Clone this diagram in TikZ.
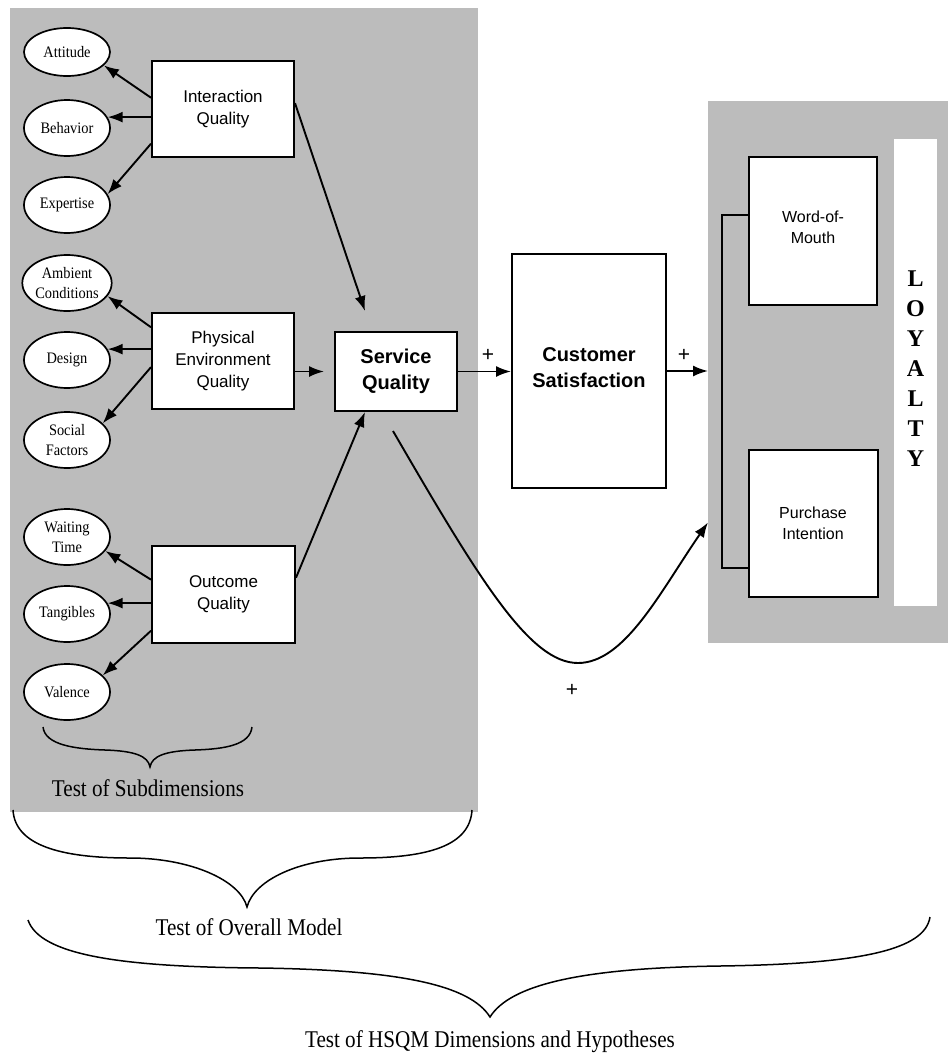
\documentclass[tikz,border=0pt]{standalone}
\usepackage{fontspec}
\setmainfont{Liberation Serif}
\newfontfamily\boxfont{Liberation Sans}
\newfontfamily\ovalfont[FakeStretch=0.9]{Liberation Serif}
\newfontfamily\capfont[FakeStretch=0.88]{Liberation Serif}
\usetikzlibrary{arrows.meta,calc,shapes.geometric}

\definecolor{panel}{RGB}{188,188,188}

\begin{document}
\begin{tikzpicture}[x=1pt,y=-1pt,
  panelbox/.style={fill=panel,draw=none,rectangle,inner sep=0pt},
  factor/.style={draw,fill=white,rectangle,line width=2pt,inner sep=0pt,
    font=\boxfont\fontsize{17}{22}\selectfont,align=center},
  keybox/.style={factor,font=\boxfont\bfseries\fontsize{20}{26}\selectfont},
  oval/.style={draw,fill=white,ellipse,line width=1.7pt,minimum width=86pt,
    minimum height=56pt,inner sep=0pt,font=\ovalfont\fontsize{16}{20}\selectfont,align=center},
  link/.style={line width=1.9pt,-{Latex[length=15pt,width=11pt]}},
  plain/.style={line width=2pt},
  brace/.style={line width=1.5pt},
  caption/.style={font=\capfont\fontsize{24}{28}\selectfont},
  plus/.style={font=\boxfont\fontsize{21}{24}\selectfont}
]
\useasboundingbox (0,0) rectangle (951,1055);

% grey groupings
\node[panelbox,minimum width=468pt,minimum height=804pt,anchor=north west] (left) at (10,8) {};
\node[panelbox,minimum width=240pt,minimum height=542pt,anchor=north west] (loy) at (708,101) {};
\node[fill=white,rectangle,inner sep=0pt,minimum width=43pt,minimum height=467pt,anchor=north west] (strip) at (894,139) {};
\node[font=\bfseries\fontsize{24}{30}\selectfont,align=center,inner sep=0pt] (loytext) at (915.5,369) {L\\O\\Y\\A\\L\\T\\Y};

% dimensions
\node[factor,minimum width=142pt,minimum height=96pt] (iq) at (223,109) {Interaction\\Quality};
\node[factor,minimum width=142pt,minimum height=96pt] (peq) at (223,361) {Physical\\Environment\\Quality};
\node[factor,minimum width=143pt,minimum height=97pt] (oq) at (223.5,594.5) {Outcome\\Quality};
\node[keybox,minimum width=122pt,minimum height=79pt] (sq) at (396,371.5) {Service\\Quality};
\node[keybox,minimum width=154pt,minimum height=234pt,text depth=6pt] (cs) at (589,371) {Customer\\Satisfaction};
\node[factor,minimum width=128pt,minimum height=148pt,text depth=8pt,font=\boxfont\fontsize{16}{21}\selectfont] (wom) at (813,231) {Word-of-\\Mouth};
\node[factor,minimum width=129pt,minimum height=147pt,font=\boxfont\fontsize{16}{21}\selectfont] (pi) at (813,523.5) {Purchase\\Intention};

% subdimensions
\node[oval,minimum height=48pt] (att) at (67,52) {Attitude};
\node[oval] (beh) at (67,128) {Behavior};
\node[oval] (exp) at (67,205) {Expertise};
\node[oval] (amb) at (67,283) {Ambient\\Conditions};
\node[oval] (des) at (67,360) {Design};
\node[oval] (soc) at (67,440) {Social\\Factors};
\node[oval] (wait) at (67,537) {Waiting\\Time};
\node[oval] (tan) at (67,614) {Tangibles};
\node[oval] (val) at (67,692) {Valence};

% dimension -> subdimension arrows
\draw[link] ($(iq.north west)!.385!(iq.south west)$) -- (att.-20);
\draw[link] (iq.west |- beh.15) -- (beh.15);
\draw[link] ($(iq.north west)!.854!(iq.south west)$) -- (exp.15);
\draw[link] ($(peq.north west)!.156!(peq.south west)$) -- (amb.-18);
\draw[link] (peq.west |- des.15) -- (des.15);
\draw[link] ($(peq.north west)!.5625!(peq.south west)$) -- (soc.25);
\draw[link] ($(oq.north west)!.35!(oq.south west)$) -- (wait.-20);
\draw[link] (oq.west |- tan.15) -- (tan.15);
\draw[link] ($(oq.north west)!.866!(oq.south west)$) -- (val.25);

% dimensions -> service quality
\draw[link] ($(iq.north east)!.44!(iq.south east)$) -- ($(sq.north west)!.25!(sq.north east)+(0,-20)$);
\draw[link] (peq.east |- sq.west) -- ($(sq.west)+(-10,0)$);
\draw[link] ($(oq.north east)!.33!(oq.south east)$) -- ($(sq.south west)!.25!(sq.south east)$);

% main path
\draw[link] (sq.east) -- (cs.west |- sq.east);
\draw[link] (cs.east) -- (loy.west |- cs.east);
\node[plus] (p1) at (488,355) {+};
\node[plus] (p2) at (684,355) {+};

\coordinate (curvestart) at ($(sq.south)+(-3,19)$);
\coordinate (dip) at (578,663);
\coordinate (curveend) at ($(loy.north west)!.777!(loy.south west)$);
\draw[link] (curvestart) .. controls +(87,150) and +(-48,0) .. (dip)
  .. controls +(47,0) and +(-47,68) .. (curveend);
\node[plus] (p3) at (572,690) {+};

% loyalty bracket
\draw[plain] ($(wom.north west)!.39!(wom.south west)$) -- ++(-26,0) |- ($(pi.north west)!.8!(pi.south west)$);

% braces
\draw[brace] (43,727) .. controls (45,745) and (75,749) .. (105,750)
  .. controls (135,751) and (148,756) .. (150,767)
  .. controls (152,756) and (165,751) .. (195,750)
  .. controls (225,749) and (250,745) .. (252,727);
\node[caption] (subdim) at (148,788) {Test of Subdimensions};

\draw[brace] (13,810) .. controls (15,845) and (60,858) .. (130,858)
  .. controls (190,858) and (240,880) .. (247,907)
  .. controls (254,880) and (300,858) .. (360,858)
  .. controls (430,858) and (470,845) .. (472,810);
\node[caption] (overall) at (249,927) {Test of Overall Model};

\draw[brace] (28,920) .. controls (40,955) and (120,967) .. (260,968)
  .. controls (400,970) and (470,985) .. (490,1017)
  .. controls (510,985) and (580,968) .. (720,966)
  .. controls (860,964) and (925,950) .. (930,917);
\node[caption] (hsqm) at (490,1042) {Test of HSQM Dimensions and Hypotheses};
\end{tikzpicture}
\end{document}
